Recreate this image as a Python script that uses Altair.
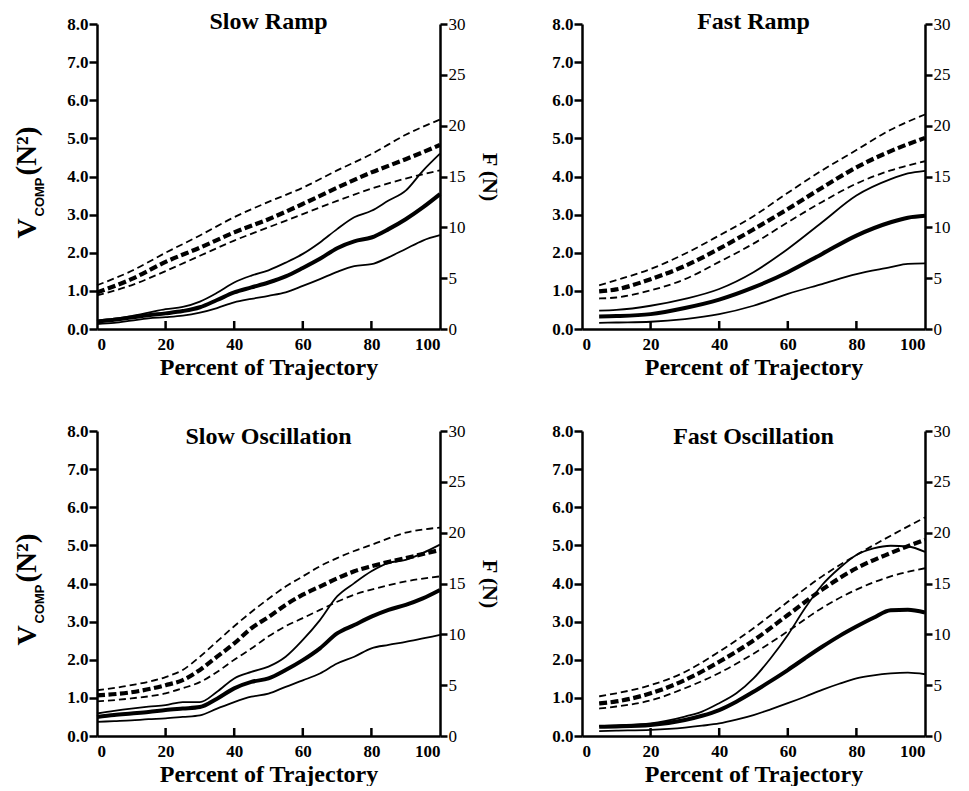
import altair as alt
import pandas as pd

# ---------------- data ----------------
# Slow Ramp
sr_xv = [0, 5, 10, 15, 20, 25, 30, 35, 40, 45, 50, 55, 60, 65, 70, 75, 80, 85, 90, 95, 100]
sr_vm = [0.19, 0.24, 0.30, 0.36, 0.41, 0.47, 0.57, 0.76, 0.96, 1.09, 1.22, 1.38, 1.60, 1.84, 2.12, 2.30, 2.40, 2.62, 2.88, 3.19, 3.54]
sr_vh = [0.22, 0.27, 0.34, 0.43, 0.52, 0.58, 0.72, 0.95, 1.22, 1.40, 1.54, 1.74, 1.97, 2.27, 2.62, 2.93, 3.10, 3.37, 3.63, 4.15, 4.60]
sr_vl = [0.13, 0.16, 0.22, 0.28, 0.31, 0.35, 0.43, 0.55, 0.70, 0.79, 0.87, 0.96, 1.13, 1.31, 1.50, 1.65, 1.70, 1.88, 2.10, 2.32, 2.46]
sr_xf = [0, 10, 20, 30, 40, 50, 60, 70, 80, 90, 100]
sr_fm = [3.6, 4.9, 6.6, 8.0, 9.5, 10.8, 12.3, 13.9, 15.4, 16.7, 18.1]
sr_fh = [4.3, 5.7, 7.5, 9.2, 11.0, 12.5, 13.9, 15.6, 17.2, 19.1, 20.6]
sr_fl = [3.3, 4.3, 5.7, 7.2, 8.7, 10.0, 11.3, 12.6, 13.8, 14.8, 15.6]

# Fast Ramp
fr_xv = [5, 10, 20, 30, 40, 50, 60, 70, 80, 90, 95, 100]
fr_vm = [0.33, 0.34, 0.39, 0.55, 0.77, 1.09, 1.49, 1.97, 2.45, 2.80, 2.92, 2.97]
fr_vh = [0.48, 0.50, 0.61, 0.79, 1.05, 1.49, 2.10, 2.80, 3.50, 3.93, 4.08, 4.15]
fr_vl = [0.16, 0.17, 0.19, 0.26, 0.39, 0.61, 0.92, 1.18, 1.44, 1.62, 1.71, 1.72]
fr_xf = [5, 10, 20, 30, 40, 50, 60, 70, 80, 90, 100]
fr_fm = [3.7, 3.9, 4.9, 6.2, 7.9, 9.8, 11.8, 13.9, 15.9, 17.5, 18.8]
fr_fh = [4.3, 4.8, 5.9, 7.4, 9.2, 11.1, 13.4, 15.6, 17.6, 19.6, 21.1]
fr_fl = [3.0, 3.1, 3.8, 4.9, 6.6, 8.4, 10.5, 12.5, 14.3, 15.6, 16.5]

# Slow Oscillation
so_xv = [0, 5, 10, 15, 20, 25, 30, 35, 40, 45, 50, 55, 60, 65, 70, 75, 80, 85, 90, 95, 100]
so_vm = [0.50, 0.55, 0.59, 0.63, 0.68, 0.72, 0.76, 0.98, 1.25, 1.42, 1.51, 1.73, 1.99, 2.30, 2.69, 2.91, 3.13, 3.31, 3.44, 3.61, 3.83]
so_vh = [0.59, 0.66, 0.72, 0.77, 0.81, 0.89, 0.89, 1.16, 1.51, 1.68, 1.82, 2.08, 2.52, 3.04, 3.66, 4.01, 4.32, 4.54, 4.62, 4.80, 5.02]
so_vl = [0.37, 0.39, 0.41, 0.44, 0.46, 0.50, 0.54, 0.72, 0.89, 1.03, 1.11, 1.29, 1.46, 1.64, 1.90, 2.08, 2.30, 2.39, 2.47, 2.56, 2.65]
so_xf = [0, 10, 20, 25, 30, 35, 40, 45, 50, 55, 60, 65, 70, 75, 80, 90, 100]
so_fm = [4.0, 4.3, 5.0, 5.5, 6.5, 7.8, 9.1, 10.6, 11.7, 12.9, 13.9, 14.7, 15.5, 16.2, 16.7, 17.5, 18.3]
so_fh = [4.5, 5.0, 5.8, 6.5, 7.8, 9.3, 10.8, 12.2, 13.5, 14.7, 15.7, 16.7, 17.5, 18.2, 18.8, 20.0, 20.5]
so_fl = [3.4, 3.7, 4.2, 4.7, 5.3, 6.3, 7.5, 8.6, 9.8, 10.8, 11.6, 12.4, 13.2, 13.9, 14.4, 15.2, 15.7]

# Fast Oscillation
fo_xv = [5, 10, 20, 30, 35, 40, 45, 50, 55, 60, 65, 70, 75, 80, 85, 90, 95, 100]
fo_vm = [0.24, 0.25, 0.29, 0.42, 0.53, 0.68, 0.90, 1.16, 1.44, 1.73, 2.04, 2.34, 2.62, 2.87, 3.10, 3.30, 3.31, 3.24]
fo_vh = [0.26, 0.28, 0.33, 0.51, 0.64, 0.86, 1.12, 1.51, 2.04, 2.65, 3.35, 3.96, 4.40, 4.75, 4.92, 4.99, 4.97, 4.83]
fo_vl = [0.13, 0.14, 0.16, 0.22, 0.27, 0.33, 0.43, 0.55, 0.70, 0.86, 1.03, 1.21, 1.37, 1.51, 1.59, 1.64, 1.66, 1.62]
fo_xf = [5, 10, 20, 30, 40, 50, 60, 70, 80, 90, 100]
fo_fm = [3.2, 3.4, 4.2, 5.5, 7.3, 9.4, 11.9, 14.4, 16.5, 18.0, 19.3]
fo_fh = [3.9, 4.2, 5.0, 6.3, 8.3, 10.6, 13.2, 15.7, 17.8, 19.7, 21.5]
fo_fl = [2.7, 2.9, 3.5, 4.7, 6.2, 8.1, 10.3, 12.6, 14.4, 15.7, 16.5]

x_ticks = [0, 20, 40, 60, 80, 100]
inner_ticks = [20, 40, 60, 80]
v_ticks = [0, 1, 2, 3, 4, 5, 6, 7, 8]
f_ticks = [0, 5, 10, 15, 20, 25, 30]

W, H = 343, 305
SERIF = "Liberation Serif"


def panel(title, xv, vm, vh, vl, xf, fm, fh, fl, left_title, right_title, title_y):
    dv_sd = pd.DataFrame({"x": xv + xv, "val": vh + vl, "k": ["hi"] * len(xv) + ["lo"] * len(xv)})
    dv_m = pd.DataFrame({"x": xv, "val": vm})
    df_sd = pd.DataFrame({"x": xf + xf, "val": fh + fl, "k": ["hi"] * len(xf) + ["lo"] * len(xf)})
    df_m = pd.DataFrame({"x": xf, "val": fm})

    xscale = alt.Scale(domain=[0, 100], nice=False)
    xaxis = alt.Axis(values=x_ticks, ticks=False, title="Percent of Trajectory",
                     labelPadding=7, titlePadding=3, titleFontSize=24)
    xenc = alt.X("x:Q", scale=xscale, axis=xaxis)

    vscale = alt.Scale(domain=[0, 8], nice=False)
    fscale = alt.Scale(domain=[0, 30], nice=False)
    vaxis = alt.Axis(values=v_ticks, format=".1f", title=None, orient="left",
                     tickSize=8, labelPadding=1)
    faxis = alt.Axis(values=f_ticks, format="d", orient="right", tickSize=7,
                     labelPadding=1, labelFontWeight="normal",
                     title=right_title if right_title else None,
                     titleAngle=90, titlePadding=12, titleFontSize=22,
                     titleFontWeight="bold")

    v_sd = alt.Chart(dv_sd).mark_line(color="black", strokeWidth=1.8, interpolate="monotone").encode(
        x=xenc, y=alt.Y("val:Q", scale=vscale, axis=vaxis), detail="k:N")
    v_m = alt.Chart(dv_m).mark_line(color="black", strokeWidth=4, interpolate="monotone").encode(
        x=xenc, y=alt.Y("val:Q", scale=vscale, axis=None))
    f_sd = alt.Chart(df_sd).mark_line(color="black", strokeWidth=1.8, strokeDash=[7, 4],
                                      interpolate="monotone").encode(
        x=xenc, y=alt.Y("val:Q", scale=fscale, axis=faxis), detail="k:N")
    f_m = alt.Chart(df_m).mark_line(color="black", strokeWidth=4.2, strokeDash=[8, 3.5],
                                    interpolate="monotone").encode(
        x=xenc, y=alt.Y("val:Q", scale=fscale, axis=None))

    ticks = alt.Chart(pd.DataFrame({"x": inner_ticks})).mark_rule(color="black", strokeWidth=2.5).encode(
        x=xenc, y=alt.value(H), y2=alt.value(H - 8))

    ttl = alt.Chart(pd.DataFrame({"t": [title]})).mark_text(
        font=SERIF, fontWeight="bold", fontSize=24, baseline="alphabetic", align="center", color="black"
    ).encode(x=alt.value(W / 2), y=alt.value(title_y), text="t:N")

    layers = [v_sd, v_m, f_sd, f_m, ticks, ttl]

    if left_title:
        cy = H / 2 + 2
        t_v = alt.Chart(pd.DataFrame({"t": ["V"]})).mark_text(
            font=SERIF, fontWeight="bold", fontSize=28, angle=270, align="left",
            baseline="alphabetic", color="black").encode(
            x=alt.value(-61), y=alt.value(cy + 60), text="t:N")
        t_c = alt.Chart(pd.DataFrame({"t": ["COMP"]})).mark_text(
            font="Liberation Sans", fontWeight="bold", fontSize=13, angle=270, align="left",
            baseline="alphabetic", color="black").encode(
            x=alt.value(-53), y=alt.value(cy + 38), text="t:N")
        t_n = alt.Chart(pd.DataFrame({"t": ["(N²)"]})).mark_text(
            font=SERIF, fontWeight="bold", fontSize=29, angle=270, align="left",
            baseline="alphabetic", color="black").encode(
            x=alt.value(-61), y=alt.value(cy - 3), text="t:N")
        layers += [t_v, t_c, t_n]

    return alt.layer(*layers).resolve_scale(y="independent").properties(width=W, height=H)


p1 = panel("Slow Ramp", sr_xv, sr_vm, sr_vh, sr_vl, sr_xf, sr_fm, sr_fh, sr_fl, True, "F (N)", 5)
p2 = panel("Fast Ramp", fr_xv, fr_vm, fr_vh, fr_vl, fr_xf, fr_fm, fr_fh, fr_fl, False, None, 5)
p3 = panel("Slow Oscillation", so_xv, so_vm, so_vh, so_vl, so_xf, so_fm, so_fh, so_fl, True, "F (N)", 13)
p4 = panel("Fast Oscillation", fo_xv, fo_vm, fo_vh, fo_vl, fo_xf, fo_fm, fo_fh, fo_fl, False, None, 13)

chart = alt.concat(p1, p2, p3, p4, columns=2, spacing={"row": 102, "column": 142},
                   bounds="flush").configure_view(
    stroke=None
).configure_axis(
    grid=False,
    domainColor="black", domainWidth=2.5,
    tickColor="black", tickWidth=2.5,
    labelColor="black", titleColor="black",
    labelFont=SERIF, titleFont=SERIF,
    labelFontSize=17, labelFontWeight="bold",
    titleFontWeight="bold",
).properties(background="white", padding={"top": 2, "left": 5, "right": 5, "bottom": 0})

chart.save("out.html", embed_options={"renderer": "svg", "actions": False})
